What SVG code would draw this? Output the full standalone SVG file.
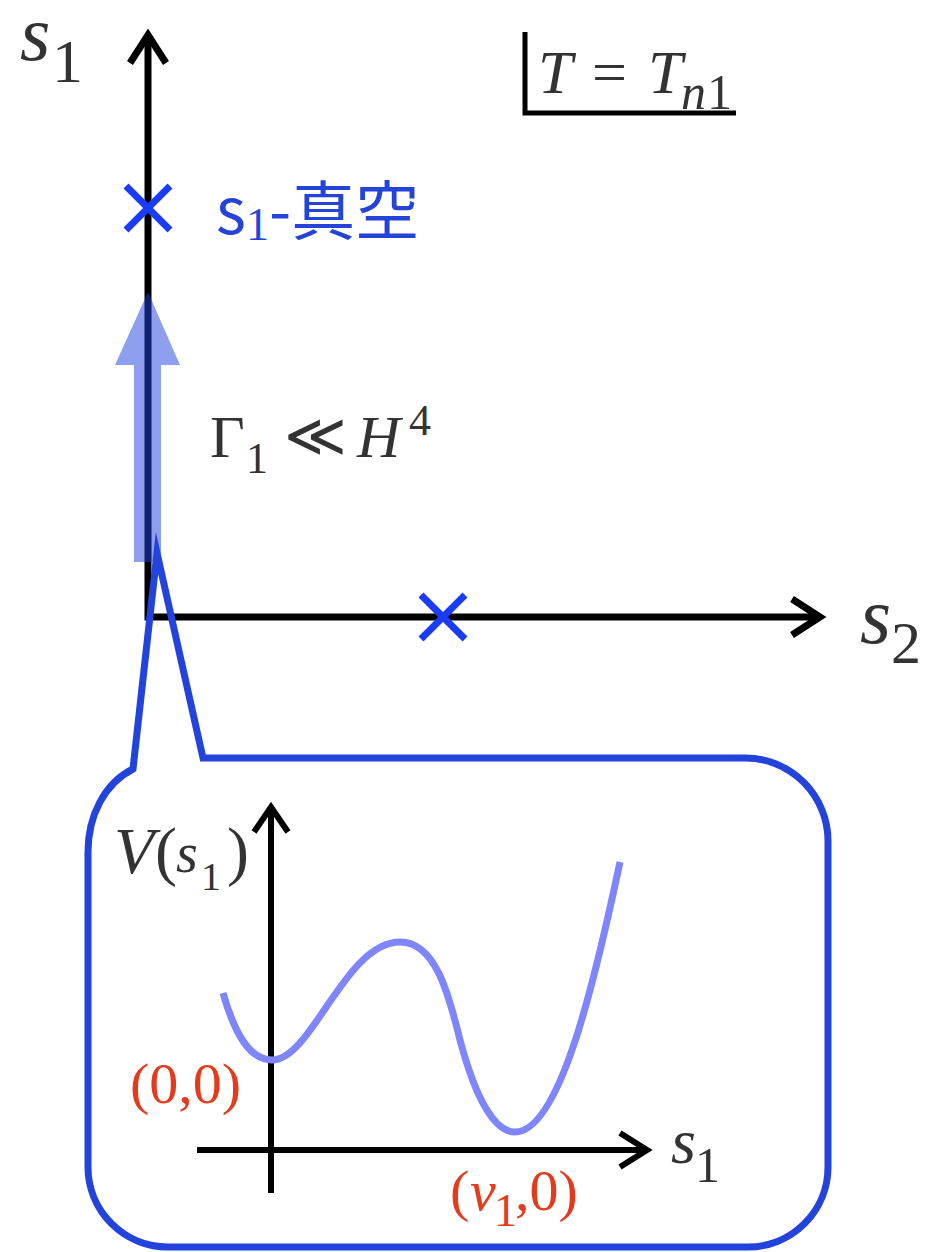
<svg xmlns="http://www.w3.org/2000/svg" width="927" height="1252" viewBox="0 0 927 1252">
<style>
.ax{fill:none;stroke:#000;stroke-width:7;stroke-linejoin:miter;stroke-linecap:butt}
.ax2{fill:none;stroke:#000;stroke-width:6;stroke-linejoin:miter}
.mark{stroke:#1a3cf5;stroke-width:7;fill:none}
.m{font-family:"Liberation Serif","DejaVu Serif",serif;fill:#333}
.i{font-style:italic}
.red{fill:#e53b1d}
.cjk{font-family:"Noto Sans CJK JP","Noto Sans",sans-serif;fill:#2343d9}
</style>
<rect width="927" height="1252" fill="#fff"/>
<g id="axes">
<polyline class="ax" points="148,36 148,617 818,617"/>
<polyline class="ax" points="130,63 148,35 166,63"/>
<polyline class="ax" points="792,599 820,617 792,635"/>
</g>
<g id="labels-main">
<text class="m" font-size="78"><tspan class="i" x="20" y="60">s</tspan><tspan x="52" y="82" font-size="62">1</tspan></text>
<text class="m" font-size="80"><tspan class="i" x="860" y="643">s</tspan><tspan x="891" y="663" font-size="60">2</tspan></text>
</g>
<g id="temp-box">
<polyline fill="none" stroke="#000" stroke-width="5" points="525,32 525,113 736,113"/>
<text class="m" font-size="62"><tspan class="i" x="538" y="93">T</tspan><tspan x="592" y="93">=</tspan><tspan class="i" x="648" y="93">T</tspan><tspan class="i" x="681" y="109" font-size="50">n</tspan><tspan x="707" y="109" font-size="50">1</tspan></text>
</g>
<g id="vacuum-s1">
<path class="mark" d="M126,186 L170,230 M170,186 L126,230"/>
<text class="cjk" font-size="64" x="216" y="234">s<tspan class="m" style="fill:#2343d9" font-size="46" dy="6">1</tspan><tspan dy="-6">-真空</tspan></text>
</g>
<g id="vacuum-s2">
<path class="mark" d="M421,595 L465,639 M465,595 L421,639"/>
</g>
<g id="transition-arrow">
<polygon points="148,292 180,365 161,365 161,562 134,562 134,365 115,365" fill="#2040e0" fill-opacity="0.5"/>
<text class="m" font-size="60"><tspan x="210" y="457">Γ</tspan><tspan x="246" y="473" font-size="44">1</tspan><tspan x="284" y="456">≪</tspan><tspan class="i" x="357" y="457">H</tspan><tspan x="409" y="435" font-size="44">4</tspan></text>
</g>
<g id="callout">
<path d="M157,553 L203,758 L745,758 A83,83 0 0 1 828,841 L828,1167 A80,80 0 0 1 748,1247 L168,1247 A80,80 0 0 1 88,1167 L88,852 C88,815 105,783 133,769 Z" fill="none" stroke="#2243dc" stroke-width="7" stroke-miterlimit="12" stroke-linejoin="miter"/>
</g>
<g id="potential-plot">
<line class="ax2" x1="271" y1="1193" x2="271" y2="808"/>
<polyline class="ax2" points="254,832 271,807 288,832"/>
<line class="ax2" x1="197" y1="1150" x2="646" y2="1150"/>
<polyline class="ax2" points="620,1133 647,1150 620,1167"/>
<path d="M223,993 C235,1035 250,1060 272,1060 C312,1060 345,942 400,942 C437,942 450,1000 460,1040 C476,1100 495,1132 515,1132 C560,1132 595,980 620,862" fill="none" stroke="#7f86fd" stroke-width="7"/>
<text class="m" font-size="66"><tspan class="i" x="114" y="873">V</tspan><tspan x="155" y="873">(</tspan><tspan class="i" x="176" y="872" font-size="56">s</tspan><tspan x="201" y="890" font-size="40">1</tspan><tspan x="227" y="873">)</tspan></text>
<text class="m" font-size="64"><tspan class="i" x="671" y="1163">s</tspan><tspan x="695" y="1182" font-size="50">1</tspan></text>
<text class="m red" font-size="58" x="130" y="1103">(0,0)</text>
<text class="m red" font-size="58"><tspan x="450" y="1210">(</tspan><tspan class="i" x="470" y="1210">v</tspan><tspan x="494" y="1226" font-size="46">1</tspan><tspan x="515" y="1210">,0)</tspan></text>
</g>
</svg>
